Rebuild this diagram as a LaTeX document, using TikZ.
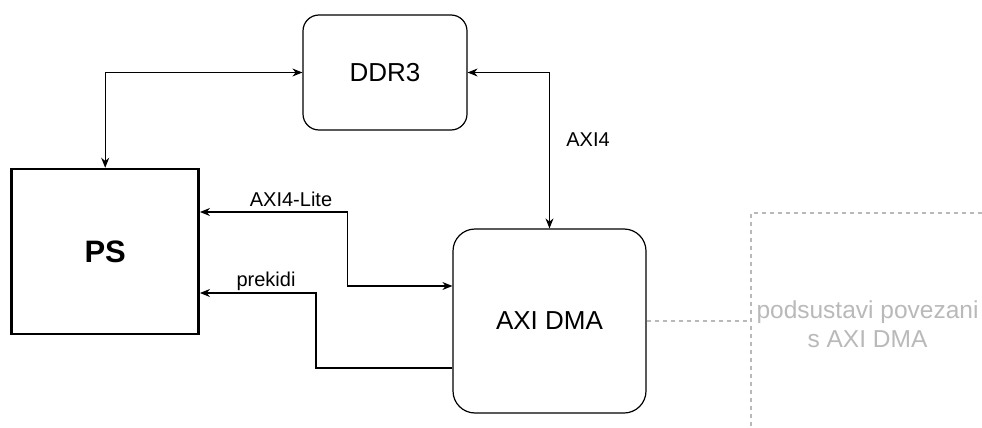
\documentclass[tikz,border=0pt]{standalone}
\usepackage{fontspec}
\setmainfont{Liberation Sans}
\usetikzlibrary{positioning,calc,arrows,arrows.meta}
\tikzset{font=\fontsize{20}{24}\selectfont}
\definecolor{subgray}{RGB}{185,185,185}

\begin{document}
\begin{tikzpicture}[x=1pt, y=-1pt, line width=1.2pt, >={Stealth[length=10pt, width=8pt]},
	block/.style={draw, rounded corners=16pt, font=\fontsize{26}{30}\selectfont},
	cpu/.style={draw, line width=2.5pt, font=\bfseries\fontsize{31}{36}\selectfont},
	lbl/.style={inner sep=1pt},
	subline/.style={draw=subgray, dashed, dash pattern=on 4pt off 4pt, line width=1.2pt}]
	\useasboundingbox (0, 0) rectangle (982, 428);
	\begin{scope}
		\tikzstyle{every node}=[align=center]
		\node[block, minimum width=164pt, minimum height=115pt] (ddr) at (385, 72.5) {DDR3};
		\node[cpu, minimum width=187pt, minimum height=165pt] (ps) at (105.2, 251.5) {PS};
		\node[block, rounded corners=22pt, minimum width=193pt, minimum height=184pt] (dma) at (549.5, 321) {AXI DMA};

		\node[lbl] (laxi) at (588, 140) {AXI4};
		\node[lbl] (llite) at (291, 199) {AXI4-Lite};
		\node[lbl] (lirq) at (266, 281) {prekidi};
		\node[text=subgray, font=\fontsize{24.5}{29}\selectfont] (lsub) at (867.5, 324.5) {podsustavi povezani\\s AXI DMA};

		\coordinate (subleft) at (751, 321);

		\draw [<->] (ddr.west) -| (ps.north);
		\draw [<->] (ddr.east) -| (dma.north);
		\draw [<->] ([yshift=39.5pt]ps.east) -| ([xshift=-105pt, yshift=35pt]dma.west) -- ([yshift=35pt]dma.west);
		\draw [->] ([yshift=-47pt]dma.west) -| ([xshift=116pt, yshift=-41.5pt]ps.east) -- ([yshift=-41.5pt]ps.east);

		% subsystems, only sketched
		\draw [subline] (dma.east) -- (subleft);
		\draw [subline] (982, 213) -| (751, 428);
	\end{scope}
\end{tikzpicture}
\end{document}
